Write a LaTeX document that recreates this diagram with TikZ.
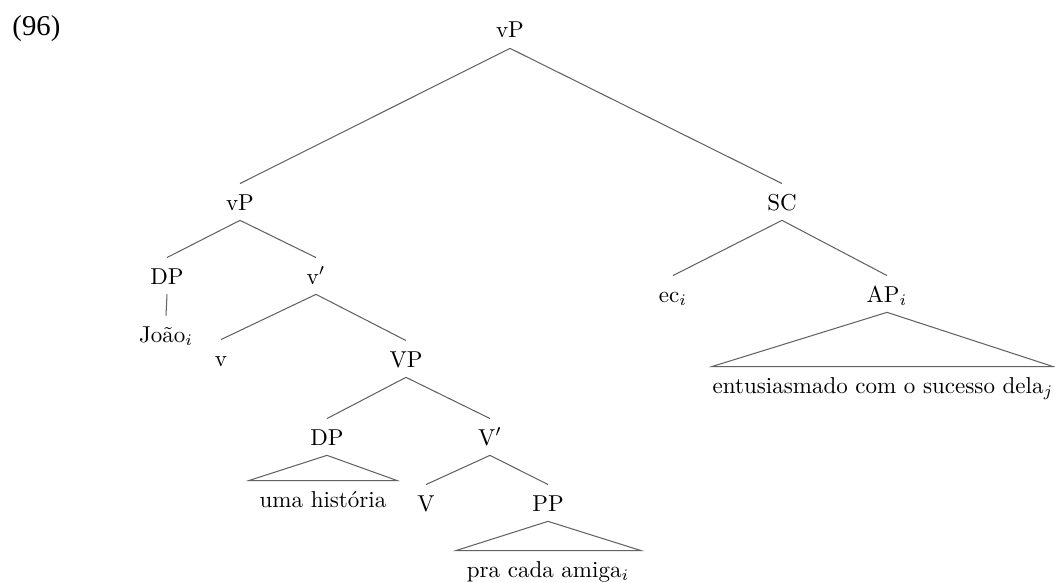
\documentclass[tikz,border=0pt]{standalone}
\usepackage{fontspec}
\newfontfamily\exfont{Liberation Serif}
\usetikzlibrary{calc}
\begin{document}
\begin{tikzpicture}[x=0.4348pt,y=-0.4348pt,
  lab/.style={anchor=base, inner xsep=1pt, inner ysep=4.3pt,
    text height=7pt, text depth=0pt, font=\fontsize{10}{12}\selectfont},
  branch/.style={draw=black!62, line width=0.45pt, line join=miter}]
\useasboundingbox (0,0) rectangle (1055,583);

% example number
\node[anchor=base west, inner sep=0pt, font=\exfont\fontsize{12.5}{15}\selectfont]
  (exnum) at (12,36) {(96)};

% labels of the tree
\node[lab] (top)   at (510,38)  {vP};
\node[lab] (vpl)   at (240,210) {vP};
\node[lab] (sc)    at (782,210) {SC};
\node[lab] (dpa)   at (167,284) {DP};
\node[lab] (vbar)  at (316,284) {v$'$};
\node[lab] (joao)  at (166,342) {João$_i$};
\node[lab] (vhead) at (221,366) {v};
\node[lab] (vp)    at (406,367) {VP};
\node[lab] (ec)    at (673,302) {ec$_i$};
\node[lab] (ap)    at (887,302) {AP$_i$};
\node[lab] (ent)   at (883,393) {entusiasmado com o sucesso dela$_j$};
\node[lab] (dpb)   at (327,445) {DP};
\node[lab] (uma)   at (323,507) {uma história};
\node[lab] (vbarb) at (490,445) {V$'$};
\node[lab] (vh)    at (426,511) {V};
\node[lab] (pp)    at (548,511) {PP};
\node[lab] (pra)   at (548,577) {pra cada amiga$_i$};

% branches
\draw[branch] (vpl.north) -- (top.south) -- (sc.north);
\draw[branch] (dpa.north) -- (vpl.south) -- (vbar.north);
\draw[branch] (dpa.south) -- (joao.north);
\draw[branch] (vhead.north) -- (vbar.south) -- (vp.north);
\draw[branch] (dpb.north) -- (vp.south) -- (vbarb.north);
\draw[branch] (vh.north) -- (vbarb.south) -- (pp.north);
\draw[branch] (ec.north) -- (sc.south) -- (ap.north);

% triangles over unanalysed phrases
\draw[branch] ($(uma.north west)+(-8,0)$) -- (dpb.south)
  -- ($(uma.north east)+(8,0)$) -- cycle;
\draw[branch] ($(pra.north west)+(-8,0)$) -- (pp.south)
  -- ($(pra.north east)+(9,0)$) -- cycle;
\draw[branch] ($(ent.north west)+(2,0)$) -- (ap.south)
  -- ($(ent.north east)+(-3,0)$) -- cycle;
\end{tikzpicture}
\end{document}
